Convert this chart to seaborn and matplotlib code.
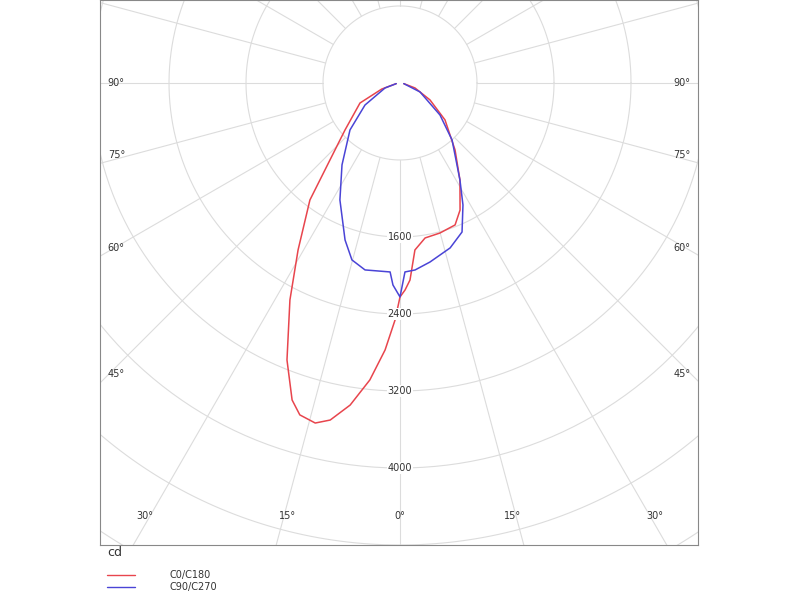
import numpy as np
import matplotlib
matplotlib.use("Agg")
import matplotlib.pyplot as plt
from matplotlib.lines import Line2D
import seaborn as sns

sns.set_style("white")
plt.rcParams['font.family'] = ['DejaVu Sans']

# C0/C180 (negative angles = C180 side)
red_ang = [-80, -71.6, -63.4, -49.5, -42.3, -37.6, -31.4, -26.9, -22.2, -18.8, -16.8, -14.0, -11.7, -8.8, -5.8, -3.2, -1.2, 0,
           1.4, 2.9, 5.1, 9.2, 14.9, 21.2, 25.3, 31.7, 39.4, 50.6, 60.5, 71.6, 80]
red_cd = [40, 200, 465, 751, 1081, 1534, 2033, 2528, 3108, 3479, 3602, 3641, 3576, 3386, 3101, 2778, 2463, 2223,
          2151, 2050, 1742, 1631, 1613, 1582, 1460, 1185, 901, 605, 358, 164, 40]
# C90/C270
blue_ang = [-80, -71.6, -57.8, -46.8, -35.3, -27.2, -19.3, -15.2, -10.6, -3.0, -2.0, 0,
            1.5, 4.6, 9.5, 16.9, 22.6, 27.3, 31.7, 42.4, 51.3, 65.8, 80]
blue_cd = [40, 164, 430, 713, 1043, 1366, 1728, 1905, 1976, 1966, 2100, 2223,
           1964, 1949, 1886, 1791, 1677, 1426, 1185, 802, 532, 228, 40]
ring_labels = [1600, 2400, 3200, 4000]
series_names = ["C0/C180", "C90/C270"]
colors = ["#e8454d", "#4a44d6"]

def xy(ang, cd):
    a = np.radians(np.array(ang, float))
    r = np.array(cd, float)
    return r * np.sin(a), -r * np.cos(a)

fig = plt.figure(figsize=(8, 6), dpi=100)
ax = fig.add_axes([100/800, 1-545/600, 598/800, 545/600])
ax.set_xlim(-3117, 3096)
ax.set_ylim(-4800, 862)
gc = "#dcdcdc"
t = np.linspace(0, 2*np.pi, 400)
for r in range(800, 6500, 800):
    ax.plot(r*np.cos(t), r*np.sin(t), color=gc, lw=0.8, zorder=1)
for a in range(0, 360, 15):
    ar = np.radians(a)
    ax.plot([800*np.sin(ar), 7000*np.sin(ar)], [-800*np.cos(ar), -7000*np.cos(ar)], color=gc, lw=0.8, zorder=1)

for ang, cd, c in [(red_ang, red_cd, colors[0]), (blue_ang, blue_cd, colors[1])]:
    x, y = xy(ang, cd)
    sns.lineplot(x=x, y=y, sort=False, color=c, lw=1.1, ax=ax, zorder=3)

for r in ring_labels:
    ax.text(0, -r, str(r), ha="center", va="center", fontsize=7, color="#333333",
            bbox=dict(facecolor="white", edgecolor="none", pad=0.5), zorder=4)

# angle labels on side edges
for a in [90, 75, 60, 45]:
    yv = -3117/np.tan(np.radians(a)) if a != 90 else 0
    yv += 90 if a != 90 else 0
    ax.text(-3117+80, yv, f"{a}°", ha="left", va="center", fontsize=7, color="#333333", zorder=4)
    ax.text(3096-80, yv, f"{a}°", ha="right", va="center", fontsize=7, color="#333333", zorder=4)
for a in [30, 15, 0]:
    xv = 4800*np.tan(np.radians(a)) - (120 if a else 0)
    for s in ([1, -1] if a else [1]):
        ax.text(s*xv, -4500, f"{a}°", ha="center", va="center", fontsize=7, color="#333333", zorder=4)

ax.set_xticks([]); ax.set_yticks([])
for sp in ax.spines.values():
    sp.set_color("#888888"); sp.set_linewidth(0.8)

fig.text(107/800, 1-552/600, "cd", fontsize=9, color="#333333", va="center")
for i, (n, c) in enumerate(zip(series_names, colors)):
    yy = 1-(575+12*i)/600
    fig.add_artist(Line2D([107/800, 135/800], [yy, yy], color=c, lw=1, transform=fig.transFigure))
    fig.text(170/800, yy, n, fontsize=7, color="#333333", va="center")

fig.savefig("out.png", dpi=100)
